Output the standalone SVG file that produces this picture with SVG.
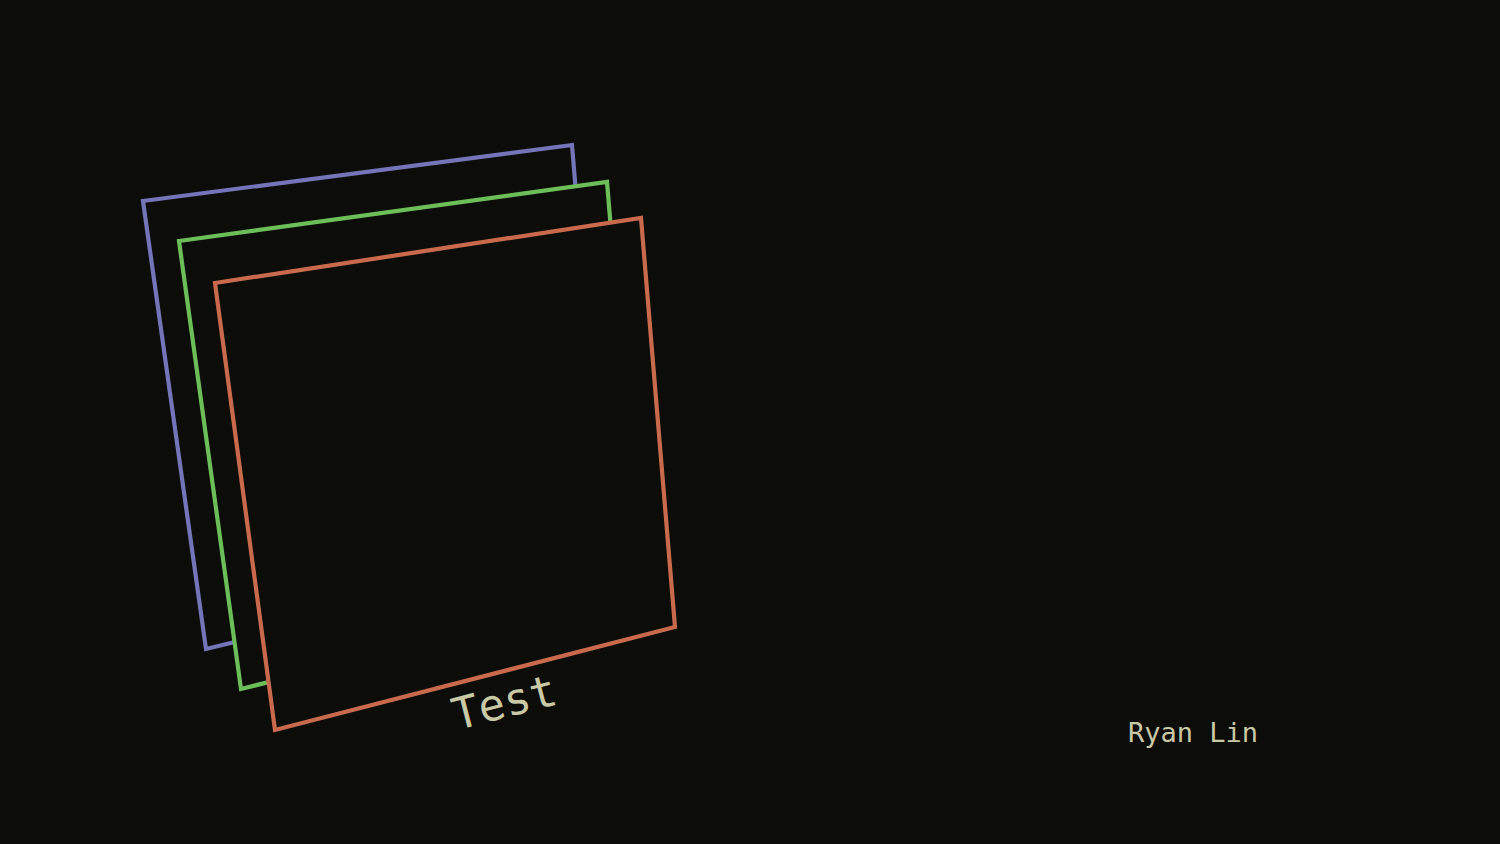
<svg xmlns="http://www.w3.org/2000/svg" width="1500" height="844" viewBox="0 0 1500 844">
<style>
.frame{fill:#0c0c08;stroke-width:4.2;stroke-linejoin:miter}
.lbl{font-family:"DejaVu Sans Mono","Liberation Mono",monospace;fill:#c9c9a6}
</style>
<rect width="1500" height="844" fill="#0c0c08"/>
<g id="frame-blue"><polygon class="frame" stroke="#7474b8" points="143,201 572,145 606,552 206,649"/></g>
<g id="frame-green"><polygon class="frame" stroke="#6cbf58" points="179,241 607,182 641,589 241,689"/></g>
<g id="frame-orange"><polygon class="frame" stroke="#c96a4c" points="215,283 641,218 675,627 275,730"/>
<text class="lbl" font-size="44" text-anchor="middle" fill="#c4c4aa" transform="translate(508,717) rotate(-14.4)">Test</text></g>
<g id="author"><text class="lbl" x="1193" y="742" font-size="27" text-anchor="middle">Ryan Lin</text></g>
</svg>
